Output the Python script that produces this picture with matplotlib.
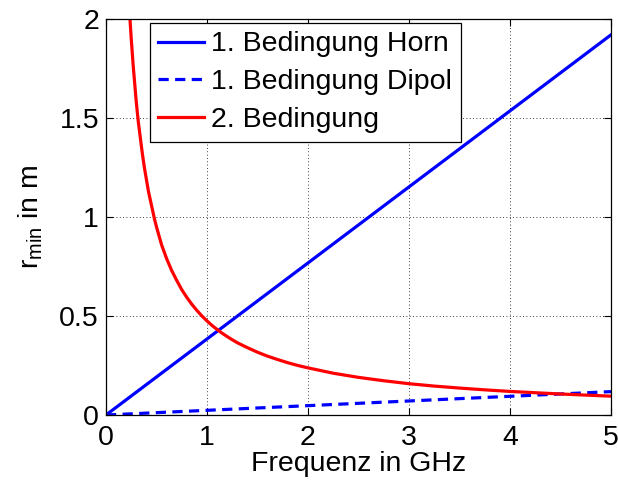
import matplotlib
matplotlib.use("Agg")
import matplotlib.pyplot as plt

# Werte
f_lin = [0.0, 5.0]
r_horn = [0.0, 1.92]
r_dipol = [0.0, 0.118]

f_2 = [0.22, 0.23, 0.24, 0.25, 0.26, 0.27, 0.28, 0.29, 0.30, 0.32, 0.34,
       0.36, 0.38, 0.40, 0.42, 0.45, 0.48, 0.50, 0.55, 0.60, 0.65, 0.70,
       0.75, 0.80, 0.85, 0.90, 0.95, 1.00, 1.05, 1.10, 1.15, 1.20, 1.25,
       1.30, 1.40, 1.50, 1.60, 1.70, 1.80, 1.90, 2.00, 2.25, 2.50, 2.75,
       3.00, 3.25, 3.50, 3.75, 4.00, 4.50, 5.00]
r_2 = [2.16, 2.07, 1.98, 1.90, 1.83, 1.76, 1.70, 1.64, 1.58, 1.48, 1.40,
       1.32, 1.25, 1.19, 1.13, 1.06, 0.99, 0.95, 0.86, 0.79, 0.73, 0.68,
       0.633, 0.594, 0.559, 0.528, 0.50, 0.475, 0.452, 0.432, 0.413, 0.396,
       0.38, 0.365, 0.34, 0.317, 0.297, 0.28, 0.264, 0.25, 0.238, 0.211,
       0.19, 0.173, 0.158, 0.146, 0.136, 0.127, 0.119, 0.106, 0.095]

labels = ["1. Bedingung Horn", "1. Bedingung Dipol", "2. Bedingung"]
xticks = [0, 1, 2, 3, 4, 5]
yticks = [0, 0.5, 1, 1.5, 2]

FS = 20.5
plt.rcParams["font.family"] = ["Liberation Sans", "DejaVu Sans"]
plt.rcParams["font.size"] = FS

fig = plt.figure(figsize=(6.18, 4.83), dpi=100)
ax = fig.add_axes([0.1715, 0.1408, 0.8172, 0.8199])

ax.plot(f_lin, r_horn, color="#0000ff", lw=2.3, label=labels[0])
ax.plot(f_lin, r_dipol, color="#0000ff", lw=2.3, ls="--", dashes=(3.2, 2.0),
        label=labels[1])
ax.plot(f_2, r_2, color="#ff0000", lw=2.3, label=labels[2])

ax.set_xlim(0, 5)
ax.set_ylim(0, 2)
ax.set_xticks(xticks)
ax.set_yticks(yticks)
ax.set_xticklabels([f"{t:g}" for t in xticks])
ax.set_yticklabels([f"{t:g}" for t in yticks])
ax.tick_params(direction="in", top=True, right=True, length=5, width=0.8,
               labelsize=FS)
ax.tick_params(axis="x", pad=7.5)
ax.tick_params(axis="y", pad=5)
ax.grid(True, ls=(0, (1, 3)), color="black", lw=0.6)
for s in ax.spines.values():
    s.set_linewidth(0.9)

ax.set_xlabel("Frequenz in GHz", fontsize=FS, labelpad=0)
ax.set_ylabel(r"$\mathregular{r_{min}}$ in m", fontsize=FS, labelpad=10)

leg = ax.legend(loc="upper left", bbox_to_anchor=(0.087, 0.99),
                fancybox=False, framealpha=1, edgecolor="black",
                handlelength=1.6, handletextpad=0.25, borderpad=0.3,
                labelspacing=0.42, borderaxespad=0, fontsize=FS)
leg.get_frame().set_linewidth(0.9)

fig.savefig("out.png", dpi=100)
